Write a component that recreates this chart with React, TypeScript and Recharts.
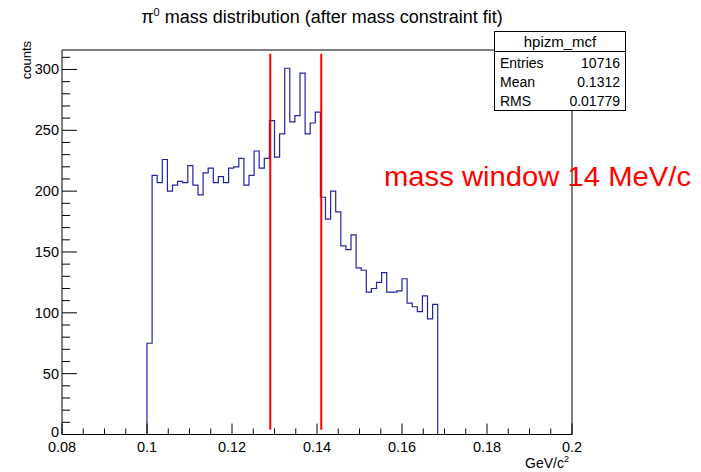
import { Line, LineChart, ReferenceLine, XAxis, YAxis } from "recharts";

// binning of the pi0 mass histogram (GeV/c^2)
const binStart = 0.1;
const binWidth = 0.0012;

// entries per bin, starting at binStart
const counts = [
  75, 213, 207, 226, 200, 205, 208, 207, 221, 205, 197, 215, 219, 207, 212, 207,
  219, 220, 227, 205, 213, 233, 219, 227,
  258, 228, 247, 301, 257, 262, 297, 247, 256, 265,
  195, 177, 200, 183, 155, 152, 164, 137, 135, 117, 120, 125, 133, 117, 117, 118,
  128, 108, 105, 101, 114, 95, 107
];

// edges of the selected mass window
const windowEdges = [0.129, 0.141];

const xMajorTicks = [0.08, 0.1, 0.12, 0.14, 0.16, 0.18, 0.2];
const yMajorTicks = [0, 50, 100, 150, 200, 250, 300];
const xRange = [0.08, 0.2];
const yMax = 316;

const statsName = "hpizm_mcf";
const statsRows = [
  ["Entries", "10716"],
  ["Mean", "0.1312"],
  ["RMS", "0.01779"]
];

// minor ticks: 4 per major division on x, 5 on y
const xTicks: number[] = [];
for (let i = 0; i <= 24; i++) xTicks.push(Math.round((0.08 + i * 0.005) * 1000) / 1000);
const yTicks: number[] = [];
for (let v = 0; v <= 310; v += 10) yTicks.push(v);

// step outline: rise from zero at the first edge, drop back after the last bin
const histPoints = [
  { m: binStart, n: 0 },
  ...counts.map((c, i) => ({ m: binStart + i * binWidth, n: c })),
  { m: binStart + counts.length * binWidth, n: 0 }
];

const FONT = "'Liberation Sans', Arial, Helvetica, sans-serif";

function XTick({ x, y, payload }: any) {
  const v = payload.value;
  const major = xMajorTicks.some((t) => Math.abs(t - v) < 1e-6);
  return (
    <g>
      <line x1={x} x2={x} y1={y} y2={y - (major ? 11 : 6)} stroke="#000" />
      {major && (
        <text x={x} y={y + 17} textAnchor="middle" fontSize={14.5} fontFamily={FONT} fill="#000">
          {String(v)}
        </text>
      )}
    </g>
  );
}

function YTick({ x, y, payload }: any) {
  const v = payload.value;
  const major = yMajorTicks.includes(v);
  return (
    <g>
      <line x1={x} x2={x + (major ? 15 : 8)} y1={y} y2={y} stroke="#000" />
      {major && (
        <text x={x - 3} y={v === 0 ? y + 2 : y + 5} textAnchor="end" fontSize={14.5} fontFamily={FONT} fill="#000">
          {String(v)}
        </text>
      )}
    </g>
  );
}

export default function App() {
  return (
    <div style={{ position: "absolute", left: 0, top: 0, width: 701, height: 472, background: "#fff", fontFamily: FONT }}>
      <LineChart width={701} height={472} data={histPoints} margin={{ top: 50, right: 129, bottom: 0, left: 0 }}>
        <XAxis
          dataKey="m"
          type="number"
          domain={xRange}
          ticks={xTicks}
          interval={0}
          tickLine={false}
          tickSize={0}
          tickMargin={0}
          tick={<XTick />}
          height={37.5}
          stroke="#000"
          allowDataOverflow
        />
        <YAxis
          type="number"
          domain={[0, yMax]}
          ticks={yTicks}
          interval={0}
          tickLine={false}
          tickSize={0}
          tickMargin={0}
          tick={<YTick />}
          width={62}
          stroke="#000"
          allowDataOverflow
        />
        <ReferenceLine y={yMax} stroke="#000" />
        <ReferenceLine x={0.2} stroke="#000" />
        <Line
          type="stepAfter"
          dataKey="n"
          stroke="#2323a4"
          strokeWidth={1.2}
          dot={false}
          isAnimationActive={false}
        />
        {windowEdges.map((e) => (
          <ReferenceLine
            key={e}
            segment={[{ x: e, y: 4 }, { x: e, y: 313 }]}
            stroke="#ff0000"
            strokeWidth={2}
          />
        ))}
      </LineChart>
      <svg width={701} height={472} style={{ position: "absolute", left: 0, top: 0, pointerEvents: "none" }}>
        <text x={322} y={23} textAnchor="middle" fontSize={18} fontFamily={FONT} fill="#000">
          π<tspan dy={-7} fontSize={11}>0</tspan>
          <tspan dy={7}> mass distribution (after mass constraint fit)</tspan>
        </text>
        <text transform="translate(31,41) rotate(-90)" textAnchor="end" fontSize={13} fontFamily={FONT} fill="#000">
          counts
        </text>
        <text x={569} y={468} textAnchor="end" fontSize={14} fontFamily={FONT} fill="#000">
          GeV/c<tspan dy={-6} fontSize={9}>2</tspan>
        </text>
        <g>
          <rect x={494.5} y={31.5} width={131} height={79} fill="#fff" stroke="#000" />
          <line x1={494.5} x2={625.5} y1={51.5} y2={51.5} stroke="#000" />
          <text x={560} y={47} textAnchor="middle" fontSize={15} fontFamily={FONT} fill="#000">
            {statsName}
          </text>
          {statsRows.map(([k, v], i) => (
            <g key={k}>
              <text x={500} y={68 + i * 19} fontSize={14} fontFamily={FONT} fill="#000">
                {k}
              </text>
              <text x={620} y={68 + i * 19} textAnchor="end" fontSize={14} fontFamily={FONT} fill="#000">
                {v}
              </text>
            </g>
          ))}
        </g>
        <text x={384} y={186} fontSize={27} fontFamily={FONT} fill="#ff0000" textLength={307} lengthAdjust="spacingAndGlyphs">
          mass window 14 MeV/c
        </text>
      </svg>
    </div>
  );
}
